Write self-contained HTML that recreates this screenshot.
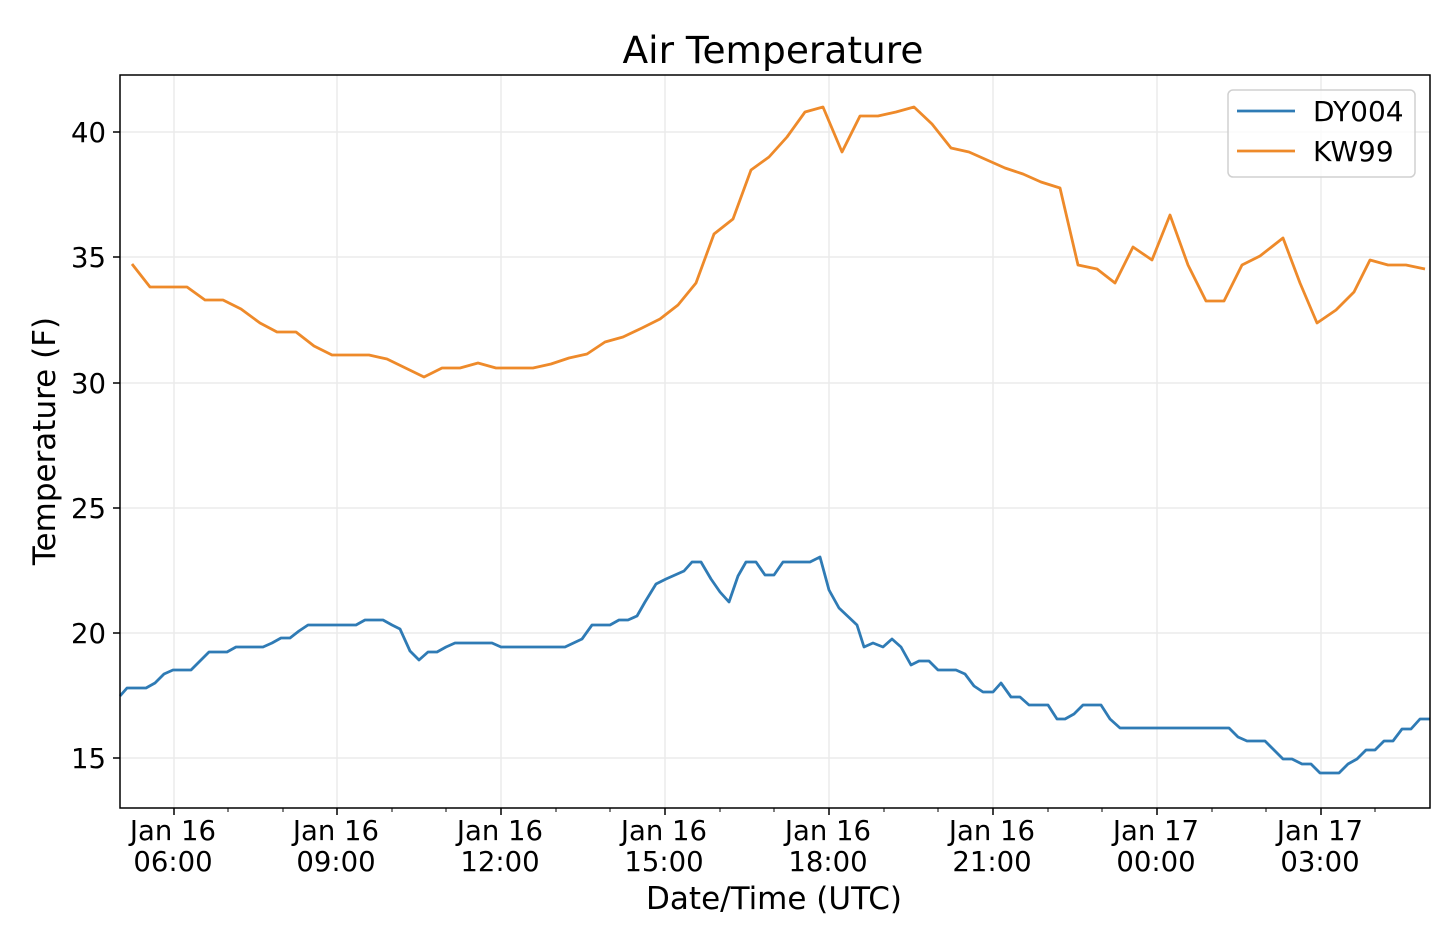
<!DOCTYPE html>
<html><head><meta charset="utf-8"><style>
body{margin:0;background:#fff;}
svg{display:block;font-family:"DejaVu Sans","Liberation Sans",sans-serif;}
</style></head><body>
<svg width="1440" height="932" xmlns="http://www.w3.org/2000/svg">
<rect width="1440" height="932" fill="#fff"/>
<g stroke="#ebebeb" stroke-width="1.5">
<line x1="174" y1="75" x2="174" y2="808"/><line x1="337" y1="75" x2="337" y2="808"/><line x1="501" y1="75" x2="501" y2="808"/><line x1="665" y1="75" x2="665" y2="808"/><line x1="829" y1="75" x2="829" y2="808"/><line x1="993" y1="75" x2="993" y2="808"/><line x1="1157" y1="75" x2="1157" y2="808"/><line x1="1321" y1="75" x2="1321" y2="808"/>
<line x1="120" y1="132" x2="1430" y2="132"/><line x1="120" y1="257" x2="1430" y2="257"/><line x1="120" y1="383" x2="1430" y2="383"/><line x1="120" y1="508" x2="1430" y2="508"/><line x1="120" y1="633" x2="1430" y2="633"/><line x1="120" y1="758" x2="1430" y2="758"/>
</g>
<polyline fill="none" stroke="#ee8a2a" stroke-width="2.8" stroke-linejoin="round" points="132,264 150,287 187,287 205,300 223,300 241,309 260,323 277,332 296,332 314,346 332,355 369,355 387,359 424,377 442,368 460,368 478,363 496,368 533,368 551,364 569,358 587,354 605,342 623,337 642,328 660,319 678,305 696,283 714,234 733,219 751,170 769,157 787,137 805,112 823,107 842,152 860,116 878,116 896,112 914,107 932,124 951,148 969,152 987,160 1005,168 1023,174 1041,182 1060,188 1078,265 1097,269 1115,283 1133,247 1152,260 1170,215 1188,265 1206,301 1224,301 1242,265 1260,256 1283,238 1300,283 1317,323 1336,310 1354,292 1370,260 1388,265 1406,265 1425,269"/>
<polyline fill="none" stroke="#2f7bb5" stroke-width="2.8" stroke-linejoin="round" points="120,696 127,688 146,688 155,683 164,674 173,670 191,670 200,661 209,652 227,652 236,647 263,647 272,643 281,638 290,638 299,631 308,625 356,625 365,620 383,620 392,625 400,629 410,651 419,660 428,652 437,652 446,647 455,643 492,643 501,647 565,647 582,639 592,625 610,625 619,620 628,620 637,616 645,602 656,584 666,579 684,571 692,562 701,562 711,579 720,592 729,602 738,576 746,562 756,562 765,575 774,575 783,562 810,562 820,557 829,590 839,608 857,625 864,647 873,643 883,647 892,639 901,647 911,665 919,661 929,661 938,670 956,670 965,674 974,686 983,692 993,692 1001,683 1011,697 1020,697 1029,705 1048,705 1057,719 1065,719 1074,714 1083,705 1101,705 1110,719 1120,728 1229,728 1238,737 1247,741 1265,741 1283,759 1292,759 1302,764 1311,764 1320,773 1339,773 1348,764 1357,759 1366,750 1375,750 1384,741 1393,741 1402,729 1411,729 1420,719 1430,719"/>
<rect x="120" y="75" width="1310" height="733" fill="none" stroke="#000" stroke-width="1.5"/>
<g stroke="#000" stroke-width="1.5">
<line x1="113" y1="132" x2="120" y2="132"/><line x1="113" y1="257" x2="120" y2="257"/><line x1="113" y1="383" x2="120" y2="383"/><line x1="113" y1="508" x2="120" y2="508"/><line x1="113" y1="633" x2="120" y2="633"/><line x1="113" y1="758" x2="120" y2="758"/>
<line x1="174" y1="808" x2="174" y2="815"/><line x1="337" y1="808" x2="337" y2="815"/><line x1="501" y1="808" x2="501" y2="815"/><line x1="665" y1="808" x2="665" y2="815"/><line x1="829" y1="808" x2="829" y2="815"/><line x1="993" y1="808" x2="993" y2="815"/><line x1="1157" y1="808" x2="1157" y2="815"/><line x1="1321" y1="808" x2="1321" y2="815"/>
</g>
<g stroke="#000" stroke-width="1">
<line x1="228" y1="808" x2="228" y2="812"/><line x1="283" y1="808" x2="283" y2="812"/><line x1="392" y1="808" x2="392" y2="812"/><line x1="446" y1="808" x2="446" y2="812"/><line x1="556" y1="808" x2="556" y2="812"/><line x1="610" y1="808" x2="610" y2="812"/><line x1="720" y1="808" x2="720" y2="812"/><line x1="774" y1="808" x2="774" y2="812"/><line x1="884" y1="808" x2="884" y2="812"/><line x1="938" y1="808" x2="938" y2="812"/><line x1="1048" y1="808" x2="1048" y2="812"/><line x1="1102" y1="808" x2="1102" y2="812"/><line x1="1212" y1="808" x2="1212" y2="812"/><line x1="1266" y1="808" x2="1266" y2="812"/><line x1="1375" y1="808" x2="1375" y2="812"/>
</g>
<g font-size="27.5" fill="#000" text-anchor="end">
<text x="106" y="142">40</text><text x="106" y="267">35</text><text x="106" y="393">30</text><text x="106" y="518">25</text><text x="106" y="643">20</text><text x="106" y="768">15</text>
</g>
<g font-size="27.5" fill="#000" text-anchor="middle">
<text x="173" y="840">Jan 16</text><text x="173" y="871">06:00</text>
<text x="336" y="840">Jan 16</text><text x="336" y="871">09:00</text>
<text x="500" y="840">Jan 16</text><text x="500" y="871">12:00</text>
<text x="664" y="840">Jan 16</text><text x="664" y="871">15:00</text>
<text x="828" y="840">Jan 16</text><text x="828" y="871">18:00</text>
<text x="992" y="840">Jan 16</text><text x="992" y="871">21:00</text>
<text x="1156" y="840">Jan 17</text><text x="1156" y="871">00:00</text>
<text x="1320" y="840">Jan 17</text><text x="1320" y="871">03:00</text>
</g>
<text x="774" y="909" font-size="31" text-anchor="middle">Date/Time (UTC)</text>
<text x="55" y="441" font-size="31" text-anchor="middle" transform="rotate(-90 55 441)">Temperature (F)</text>
<text x="773" y="63" font-size="37.5" text-anchor="middle">Air Temperature</text>
<rect x="1228" y="90" width="187" height="87" rx="5" fill="#fff" fill-opacity="0.8" stroke="#d0d0d0" stroke-width="1.5"/>
<line x1="1237" y1="111" x2="1295" y2="111" stroke="#2f7bb5" stroke-width="2.8"/>
<line x1="1237" y1="151" x2="1295" y2="151" stroke="#ee8a2a" stroke-width="2.8"/>
<text x="1313" y="121" font-size="28">DY004</text>
<text x="1313" y="161" font-size="28">KW99</text>
</svg>
</body></html>
